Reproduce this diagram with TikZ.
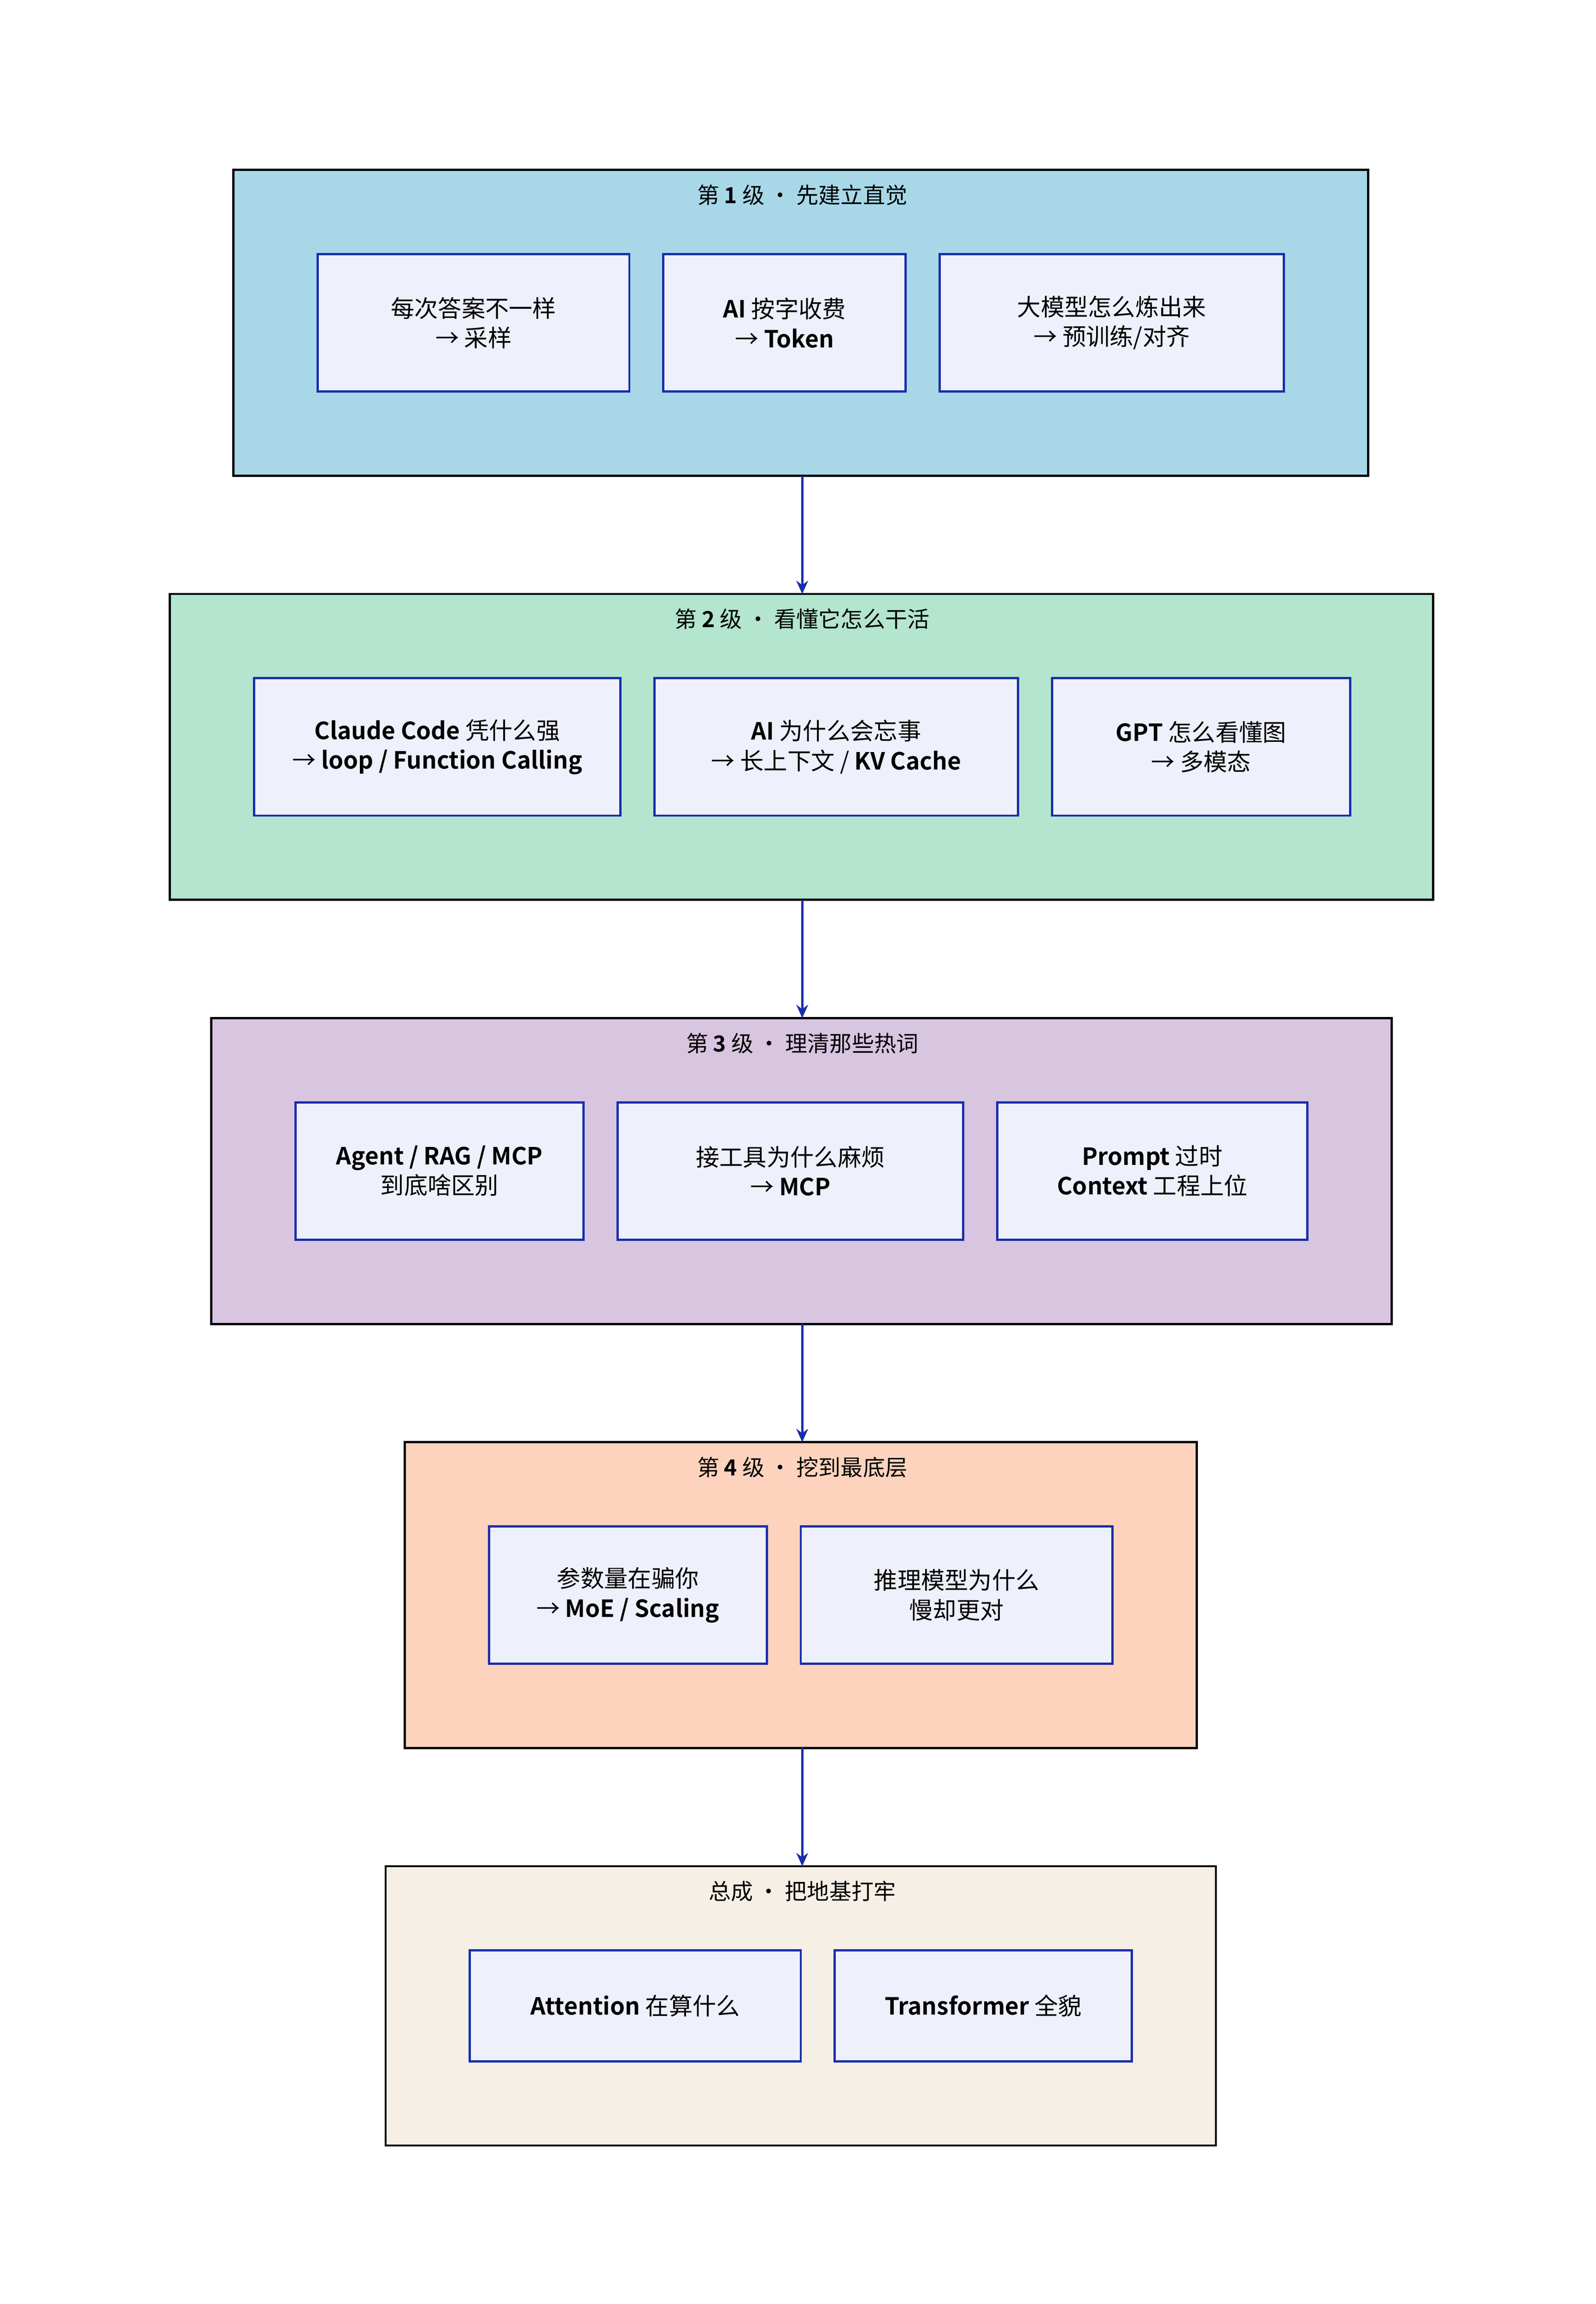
\documentclass[tikz,border=0pt]{standalone}
\usepackage{fontspec}
\setmainfont{Noto Sans CJK SC}[BoldFont={Noto Sans CJK SC Bold}]
\usetikzlibrary{arrows.meta}
\definecolor{ib}{HTML}{1A2DAA}
\definecolor{ifill}{HTML}{EEF0FB}
\definecolor{ca}{HTML}{A8D8E8}
\definecolor{cb}{HTML}{B3E5CF}
\definecolor{cc}{HTML}{D8C5E0}
\definecolor{cd}{HTML}{FDD3BE}
\definecolor{ce}{HTML}{F5EFE6}
\begin{document}
\begin{tikzpicture}[x=1pt,y=-1pt,
  grp/.style={draw=black,line width=1.5pt},
  inn/.style={draw=ib,fill=ifill,line width=1.5pt},
  lab/.style={font=\fontsize{16}{20}\selectfont,align=center},
  ttl/.style={font=\fontsize{15}{18}\selectfont},
  arr/.style={draw=ib,line width=1.5pt,-{Stealth[length=9pt,width=8pt]}}]
\useasboundingbox (0,0) rectangle (1080,1559.3);
\newcommand\grpbox[6]{%
  \draw[grp,fill=#6] (#2,#3) rectangle (#4,#5);
  \coordinate (#1n) at (543,#3); \coordinate (#1s) at (543,#5);}
\newcommand\ibox[6]{%
  \draw[inn] (#2,#3) rectangle (#4,#5);
  \node[lab] (#1) at ({(#2+#4)/2},{(#3+#5)/2}) {#6};}
\grpbox{g1}{158}{115}{926}{322}{ca}
\grpbox{g2}{115}{402}{970}{609}{cb}
\grpbox{g3}{143}{689}{942}{896}{cc}
\grpbox{g4}{274}{976}{810}{1183}{cd}
\grpbox{g5}{261}{1263}{823}{1452}{ce}
\node[ttl] (t1) at (543,132) {第 \textbf{1} 级 · 先建立直觉};
\node[ttl] (t2) at (543,419) {第 \textbf{2} 级 · 看懂它怎么干活};
\node[ttl] (t3) at (543,706) {第 \textbf{3} 级 · 理清那些热词};
\node[ttl] (t4) at (543,993) {第 \textbf{4} 级 · 挖到最底层};
\node[ttl] (t5) at (543,1280) {总成 · 把地基打牢};
\ibox{a1}{215}{172}{426}{265}{每次答案不一样\\→ 采样}
\ibox{a2}{449}{172}{613}{265}{\textbf{AI} 按字收费\\→ \textbf{Token}}
\ibox{a3}{636}{172}{869}{265}{大模型怎么炼出来\\→ 预训练/对齐}
\ibox{b1}{172}{459}{420}{552}{\textbf{Claude Code} 凭什么强\\→ \textbf{loop / Function Calling}}
\ibox{b2}{443}{459}{689}{552}{\textbf{AI} 为什么会忘事\\→ 长上下文 / \textbf{KV Cache}}
\ibox{b3}{712}{459}{914}{552}{\textbf{GPT} 怎么看懂图\\→ 多模态}
\ibox{c1}{200}{746}{395}{839}{\textbf{Agent / RAG / MCP}\\到底啥区别}
\ibox{c2}{418}{746}{652}{839}{接工具为什么麻烦\\→ \textbf{MCP}}
\ibox{c3}{675}{746}{885}{839}{\textbf{Prompt} 过时\\\textbf{Context} 工程上位}
\ibox{d1}{331}{1033}{519}{1126}{参数量在骗你\\→ \textbf{MoE / Scaling}}
\ibox{d2}{542}{1033}{753}{1126}{推理模型为什么\\慢却更对}
\ibox{e1}{318}{1320}{542}{1395}{\textbf{Attention} 在算什么}
\ibox{e2}{565}{1320}{766}{1395}{\textbf{Transformer} 全貌}
\draw[arr] (g1s) -- (g2n);
\draw[arr] (g2s) -- (g3n);
\draw[arr] (g3s) -- (g4n);
\draw[arr] (g4s) -- (g5n);
\end{tikzpicture}
\end{document}
